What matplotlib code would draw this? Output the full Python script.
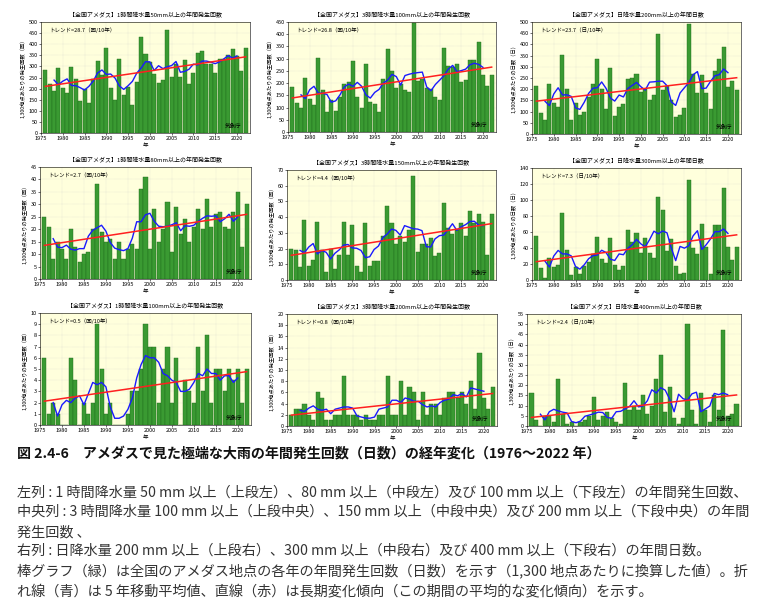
import matplotlib
matplotlib.use('Agg')
import matplotlib.pyplot as plt
import numpy as np

plt.rcParams['font.family'] = ['Noto Sans CJK JP', 'DejaVu Sans']

years = list(range(1976, 2023))

# top row
h1_50 = [286, 220, 190, 293, 203, 182, 299, 242, 144, 199, 137, 245, 326, 262, 383,
         203, 147, 333, 172, 205, 125, 230, 432, 358, 318, 268, 226, 238, 465, 253,
         310, 253, 330, 222, 272, 360, 368, 310, 310, 272, 335, 335, 350, 378, 345,
         280, 383]
h3_100 = [186, 120, 100, 220, 133, 110, 302, 170, 80, 130, 85, 145, 197, 203, 292,
          143, 100, 277, 122, 115, 80, 215, 338, 250, 180, 195, 170, 165, 445, 208,
          215, 182, 175, 142, 130, 342, 272, 265, 280, 203, 213, 295, 295, 370, 233,
          190, 233]
d_200 = [215, 93, 62, 222, 137, 120, 353, 200, 62, 140, 85, 97, 165, 222, 337,
         200, 110, 293, 80, 120, 132, 245, 250, 268, 188, 200, 150, 173, 447, 195,
         213, 150, 75, 85, 115, 490, 268, 185, 265, 185, 110, 280, 335, 390, 210,
         237, 197]
# middle row
h1_80 = [25, 21, 8, 15, 12, 8, 20, 13, 7, 10, 11, 20, 38, 19, 15,
         16, 8, 15, 8, 12, 14, 12, 36, 41, 12, 28, 15, 20, 31, 11,
         29, 18, 24, 15, 21, 28, 20, 32, 21, 26, 27, 21, 20, 27, 35,
         13, 30]
h3_150 = [20, 19, 8, 38, 9, 13, 37, 19, 5, 20, 7, 16, 37, 16, 35,
          9, 5, 36, 9, 12, 12, 28, 47, 36, 23, 28, 24, 32, 66, 18,
          23, 23, 27, 15, 17, 49, 33, 29, 32, 36, 28, 44, 36, 42, 37,
          16, 42]
d_300 = [55, 15, 3, 28, 16, 19, 84, 38, 6, 16, 7, 17, 22, 33, 54,
         26, 21, 52, 19, 12, 18, 62, 47, 59, 34, 52, 34, 28, 104, 87,
         36, 51, 17, 8, 9, 125, 40, 32, 70, 41, 8, 69, 69, 115, 41,
         25, 41]
# bottom row
h1_100 = [6, 1, 2, 1, 0, 0, 6, 4, 0, 2, 1, 2, 9, 5, 1,
          2, 0, 0, 0, 1, 3, 3, 5, 9, 7, 7, 2, 5, 7, 2,
          6, 0, 4, 3, 2, 7, 3, 8, 2, 5, 5, 3, 5, 4, 5,
          2, 5]
h3_200 = [2, 3, 3, 4, 2, 1, 6, 5, 1, 1, 2, 2, 9, 2, 2,
          2, 1, 2, 1, 1, 2, 2, 9, 2, 2, 8, 2, 7, 6, 1,
          6, 2, 4, 4, 2, 5, 6, 6, 5, 6, 4, 8, 3, 13, 5,
          3, 7]
d_400 = [16, 3, 0, 5, 5, 2, 23, 6, 1, 2, 0, 2, 3, 5, 14,
         3, 5, 7, 4, 2, 1, 21, 8, 10, 8, 15, 6, 10, 23, 35,
         7, 19, 4, 1, 4, 50, 8, 1, 16, 8, 2, 15, 8, 47, 5,
         6, 11]

titles = ['【全国アメダス】1時間降水量50mm以上の年間発生回数',
          '【全国アメダス】3時間降水量100mm以上の年間発生回数',
          '【全国アメダス】日降水量200mm以上の年間日数',
          '【全国アメダス】1時間降水量80mm以上の年間発生回数',
          '【全国アメダス】3時間降水量150mm以上の年間発生回数',
          '【全国アメダス】日降水量300mm以上の年間日数',
          '【全国アメダス】1時間降水量100mm以上の年間発生回数',
          '【全国アメダス】3時間降水量200mm以上の年間発生回数',
          '【全国アメダス】日降水量400mm以上の年間日数']
trends = ['トレンド=28.7（回/10年）', 'トレンド=26.8（回/10年）', 'トレンド=23.7（日/10年）',
          'トレンド=2.7（回/10年）', 'トレンド=4.4（回/10年）', 'トレンド=7.3（日/10年）',
          'トレンド=0.5（回/10年）', 'トレンド=0.8（回/10年）', 'トレンド=2.4（日/10年）']
ylab_count = '1,300地点あたりの発生回数（回）'
ylab_days = '1,300地点あたりの日数（日）'
ymax = [500, 450, 500, 45, 70, 140, 10, 20, 55]
ystep = [50, 50, 50, 5, 10, 20, 1, 2, 5]

series = [h1_50, h3_100, d_200, h1_80, h3_150, d_300, h1_100, h3_200, d_400]

# axes boxes in pixels: left, right, top, bottom
boxes = [(41, 250, 22, 133), (288, 496, 22, 132), (532, 741, 22, 134),
         (40, 251, 167, 279), (287, 496, 170, 280), (532, 741, 168, 280),
         (40, 251, 313, 425), (287, 497, 314, 426), (527, 741, 314, 426)]

W, H = 768, 615
fig = plt.figure(figsize=(W / 100, H / 100), dpi=100)

yrs = np.array(years)
for i in range(9):
    l, r, t, b = boxes[i]
    ax = fig.add_axes([l / W, 1 - b / H, (r - l) / W, (b - t) / H])
    vals = np.array(series[i], dtype=float)
    ax.set_facecolor('#ffffdc')
    ax.grid(True, color='#c8c8c8', linewidth=0.3, linestyle=':')
    ax.set_axisbelow(True)
    ax.bar(yrs, vals, width=0.92, color='#3a9a32', edgecolor='#1f6a1a', linewidth=0.3, zorder=2)
    # 5-year running mean
    ma = np.convolve(vals, np.ones(5) / 5, mode='valid')
    ax.plot(yrs[2:-2], ma, color='#1a1aff', linewidth=1.0, zorder=3)
    # linear trend
    k, c = np.polyfit(yrs, vals, 1)
    ax.plot(yrs, k * yrs + c, color='#ff2020', linewidth=1.1, zorder=4)

    ax.set_xlim(1975, 2023)
    ax.set_ylim(0, ymax[i])
    ax.set_xticks(range(1975, 2021, 5))
    ax.set_yticks(np.arange(0, ymax[i] + ystep[i] / 2, ystep[i]))
    ax.tick_params(labelsize=4, length=1.5, width=0.4, pad=1)
    for s in ax.spines.values():
        s.set_linewidth(0.4)
    ax.set_title(titles[i], fontsize=4.3, pad=3.5)
    ax.set_xlabel('年', fontsize=4, labelpad=1)
    ax.set_ylabel(ylab_days if i % 3 == 2 else ylab_count, fontsize=3.8, labelpad=2)
    ax.text(0.04, 0.95, trends[i], transform=ax.transAxes, fontsize=4,
            ha='left', va='top')
    ax.text(0.96, 0.04, '気象庁', transform=ax.transAxes, fontsize=4,
            ha='right', va='bottom')

heading = '図 2.4-6　アメダスで見た極端な大雨の年間発生回数（日数）の経年変化（1976～2022 年）'
fig.text(17 / W, 1 - 453 / H, heading, fontsize=10.1, fontweight='bold',
         ha='left', va='center', color='#111111')

caption = ['左列 : 1 時間降水量 50 mm 以上（上段左）、80 mm 以上（中段左）及び 100 mm 以上（下段左）の年間発生回数、',
           '中央列 : 3 時間降水量 100 mm 以上（上段中央）、150 mm 以上（中段中央）及び 200 mm 以上（下段中央）の年間',
           '発生回数 、',
           '右列 : 日降水量 200 mm 以上（上段右）、300 mm 以上（中段右）及び 400 mm 以上（下段右）の年間日数。',
           '棒グラフ（緑）は全国のアメダス地点の各年の年間発生回数（日数）を示す（1,300 地点あたりに換算した値）。折',
           'れ線（青）は 5 年移動平均値、直線（赤）は長期変化傾向（この期間の平均的な変化傾向）を示す。']
line_y = [492, 512, 532, 551, 571, 591]
for txt, y in zip(caption, line_y):
    fig.text(17 / W, 1 - y / H, txt, fontsize=10.2, ha='left', va='center', color='#333333')

fig.savefig('out.png', dpi=100)
